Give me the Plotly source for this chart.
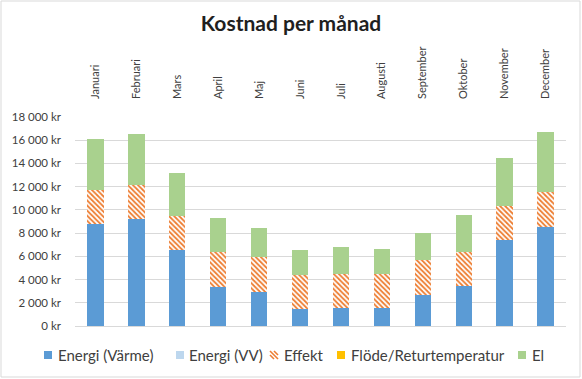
import plotly.graph_objects as go

months = ["Januari", "Februari", "Mars", "April", "Maj", "Juni", "Juli",
          "Augusti", "September", "Oktober", "November", "December"]
energi_varme = [8780, 9200, 6570, 3390, 2900, 1460, 1520, 1550, 2700, 3440, 7410, 8550]
energi_vv = [0, 0, 0, 0, 0, 0, 0, 0, 0, 0, 0, 0]
effekt = [2960, 2970, 2930, 2960, 3040, 2960, 2960, 2950, 2960, 2960, 2950, 2950]
flode = [0, 0, 0, 0, 0, 0, 0, 0, 0, 0, 0, 0]
el = [4360, 4330, 3680, 2980, 2470, 2130, 2320, 2100, 2350, 3160, 4110, 5180]

ytick_vals = [0, 2000, 4000, 6000, 8000, 10000, 12000, 14000, 16000, 18000]
ytick_text = ["0 kr", "2 000 kr", "4 000 kr", "6 000 kr", "8 000 kr", "10 000 kr",
              "12 000 kr", "14 000 kr", "16 000 kr", "18 000 kr"]

series_names = ["Energi (Värme)", "Energi (VV)", "Effekt", "Flöde/Returtemperatur", "El"]
series_colors = ["#5B9BD5", "#BDD7EE", "#ED7D31", "#FFC000", "#A9D18E"]

FONT = "Lato"
TXT = "#404040"

W, H = 582, 379
L, R, T, B = 75, 16, 117, 53
pw = W - L - R
ph = H - T - B


def px_x(x):
    return (x - L) / pw


def px_y(y):
    return (H - B - y) / ph


fig = go.Figure()
fig.add_bar(x=months, y=energi_varme, name=series_names[0],
            marker=dict(color=series_colors[0], line=dict(width=0)))
fig.add_bar(x=months, y=energi_vv, name=series_names[1],
            marker=dict(color=series_colors[1], line=dict(width=0)))
fig.add_bar(x=months, y=effekt, name=series_names[2],
            marker=dict(color="white", line=dict(width=0),
                        pattern=dict(shape="\\", fgcolor=series_colors[2], bgcolor="white",
                                     size=3.6, solidity=0.5, fillmode="replace")))
fig.add_bar(x=months, y=flode, name=series_names[3],
            marker=dict(color=series_colors[3], line=dict(width=0)))
fig.add_bar(x=months, y=el, name=series_names[4],
            marker=dict(color=series_colors[4], line=dict(width=0)))

fig.update_layout(
    width=W, height=H,
    barmode="stack", bargap=0.6,
    margin=dict(l=L, r=R, t=T, b=B, pad=0),
    paper_bgcolor="white", plot_bgcolor="white",
    font=dict(family=FONT, color=TXT, size=11),
    title=dict(text="<b>Kostnad per månad</b>", x=0.5, xanchor="center",
               y=1 - 24 / H, yanchor="middle",
               font=dict(family=FONT, size=21, color="#1F1F1F")),
    xaxis=dict(side="top", tickangle=-90, showgrid=False, showline=False,
               ticks="", tickfont=dict(size=11, family=FONT, color=TXT),
               ticklabelstandoff=17, fixedrange=True),
    yaxis=dict(range=[0, 18000], tickvals=ytick_vals, ticktext=ytick_text,
               showgrid=True, gridcolor="#D9D9D9", gridwidth=1,
               zeroline=True, zerolinecolor="#D9D9D9", zerolinewidth=1,
               showline=False, ticks="", tickfont=dict(size=11.5, family=FONT, color=TXT),
               ticklabelstandoff=13, fixedrange=True),
    showlegend=False,
)

# Chart border
fig.add_shape(type="rect", xref="paper", yref="paper",
              x0=px_x(1), x1=px_x(W - 2), y0=px_y(H - 2), y1=px_y(1),
              line=dict(color="#D9D9D9", width=1), fillcolor="rgba(0,0,0,0)",
              layer="below")

# Custom legend (single row, Excel style)
leg_box_x = [44, 176, 270, 337, 518]
leg_text_x = [56, 187, 282, 349, 530]
leg_y = 355
box = 8
for i, name in enumerate(series_names):
    x0 = leg_box_x[i]
    if name == "Effekt":
        segs = [(0, 0, box, box), (0, box / 2, box / 2, box), (box / 2, 0, box, box / 2)]
        for (ax, ay, bx, by) in segs:
            fig.add_shape(type="line", xref="paper", yref="paper",
                          x0=px_x(x0 + ax), y0=px_y(leg_y - box / 2 + ay),
                          x1=px_x(x0 + bx), y1=px_y(leg_y - box / 2 + by),
                          line=dict(color=series_colors[i], width=1.6))
    else:
        fig.add_shape(type="rect", xref="paper", yref="paper",
                      x0=px_x(x0), x1=px_x(x0 + box),
                      y0=px_y(leg_y + box / 2), y1=px_y(leg_y - box / 2),
                      line=dict(width=0), fillcolor=series_colors[i])
    fig.add_annotation(xref="paper", yref="paper", x=px_x(leg_text_x[i]), y=px_y(leg_y),
                       xanchor="left", yanchor="middle", text=name, showarrow=False,
                       font=dict(family=FONT, size=15, color=TXT))

fig.write_html("out.html", config={"displayModeBar": False},
               post_script="document.body.style.margin='0';document.body.style.padding='0';")
